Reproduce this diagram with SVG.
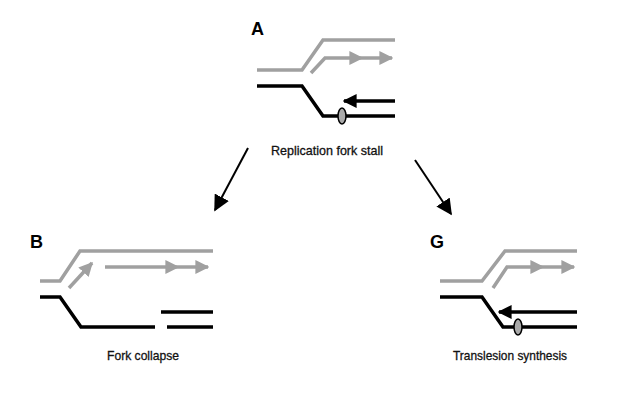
<svg xmlns="http://www.w3.org/2000/svg" width="631" height="406" viewBox="0 0 631 406">
<style>
.g{fill:none;stroke:#a0a0a0;stroke-width:3.5}
.k{fill:none;stroke:#000;stroke-width:3.5}
.t{font-family:"Liberation Sans",Arial,sans-serif;font-size:13px;fill:#111;stroke:#111;stroke-width:0.3}
.L{font-family:"Liberation Sans",Arial,sans-serif;font-size:18px;font-weight:bold;fill:#000}
.o{fill:#aaa;stroke:#000;stroke-width:1.5}
</style>
<defs>
<marker id="ga" viewBox="0 0 10 10" refX="9" refY="5" markerWidth="4" markerHeight="4" orient="auto" markerUnits="strokeWidth"><path d="M0,0L10,5L0,10z" fill="#a0a0a0"/></marker>
<marker id="ka" viewBox="0 0 10 10" refX="9" refY="5" markerWidth="4" markerHeight="4" orient="auto" markerUnits="strokeWidth"><path d="M0,0L10,5L0,10z" fill="#000"/></marker>
<marker id="ba" viewBox="0 0 10 10" refX="9" refY="5" markerWidth="8" markerHeight="8" orient="auto" markerUnits="strokeWidth"><path d="M0,0L10,5L0,10z" fill="#000"/></marker>
</defs>
<g id="nodeA">
<text class="L" x="251" y="35">A</text>
<path class="g" d="M257,70H302L323,40H395"/>
<path class="g" d="M311,73L325,58H362" marker-end="url(#ga)"/>
<path class="g" d="M362,58H392" marker-end="url(#ga)"/>
<path class="k" d="M257,86H302L323,116H395"/>
<path class="k" d="M395,101H344" marker-end="url(#ka)"/>
<ellipse class="o" cx="342" cy="116" rx="4" ry="8"/>
<text class="t" x="327" y="155" text-anchor="middle" textLength="112" lengthAdjust="spacingAndGlyphs">Replication fork stall</text>
</g>
<g id="nodeB">
<text class="L" x="30" y="248">B</text>
<path class="g" d="M40,281H60L80,251H213"/>
<path class="g" d="M69,288L92,263" marker-end="url(#ga)"/>
<path class="g" d="M105,267H178" marker-end="url(#ga)"/>
<path class="g" d="M178,267H208" marker-end="url(#ga)"/>
<path class="k" d="M40,297H60L81,327H155"/>
<path class="k" d="M161,312H213M167,327H213"/>
<text class="t" x="143" y="360" text-anchor="middle" textLength="72" lengthAdjust="spacingAndGlyphs">Fork collapse</text>
</g>
<g id="nodeG">
<text class="L" x="430" y="248">G</text>
<path class="g" d="M440,281H482L505,251H577"/>
<path class="g" d="M493,288L507,267H543" marker-end="url(#ga)"/>
<path class="g" d="M543,267H574" marker-end="url(#ga)"/>
<path class="k" d="M440,297H482L503,327H577"/>
<path class="k" d="M577,312H499" marker-end="url(#ka)"/>
<ellipse class="o" cx="518" cy="327" rx="4" ry="8"/>
<text class="t" x="510" y="360" text-anchor="middle" textLength="114" lengthAdjust="spacingAndGlyphs">Translesion synthesis</text>
</g>
<g id="connectors">
<path d="M248,148L215,210" stroke="#000" stroke-width="2" fill="none" marker-end="url(#ba)"/>
<path d="M415,160L451,214" stroke="#000" stroke-width="2" fill="none" marker-end="url(#ba)"/>
</g>
</svg>
